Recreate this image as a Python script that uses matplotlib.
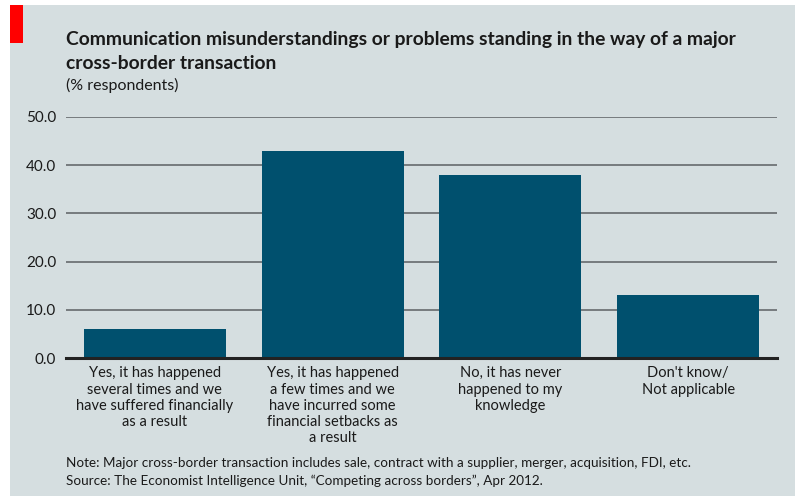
import matplotlib.pyplot as plt
from matplotlib.patches import Rectangle

categories = [
    "Yes, it has happened\nseveral times and we\nhave suffered financially\nas a result",
    "Yes, it has happened\na few times and we\nhave incurred some\nfinancial setbacks as\na result",
    "No, it has never\nhappened to my\nknowledge",
    "Don't know/\nNot applicable",
]
values = [6, 43, 38, 13]
yticks = [0, 10, 20, 30, 40, 50]

BG = "#d5dee0"
BAR = "#00506e"
TXT = "#1a1a1a"
W, H = 800, 496

plt.rcParams['font.family'] = ['Lato', 'DejaVu Sans']

fig = plt.figure(figsize=(W / 100, H / 100), dpi=100)
fig.patch.set_facecolor("white")

# background panel and red tag
fig.patches.append(Rectangle((10 / W, 0), 785 / W, 491 / H, transform=fig.transFigure,
                             facecolor=BG, edgecolor="none", zorder=-2))
fig.patches.append(Rectangle((10 / W, 1 - 43 / H), 13 / W, 38 / H, transform=fig.transFigure,
                             facecolor="#ff0000", edgecolor="none", zorder=-1))

ax = fig.add_axes([66 / W, 1 - 358 / H, 711 / W, 241 / H])
ax.set_zorder(2)
ax.patch.set_visible(False)

x = range(len(values))
ax.bar(x, values, width=0.8, color=BAR, zorder=3)
ax.set_xlim(-0.5, 3.5)
ax.set_ylim(0, 50)
ax.set_yticks(yticks)
ax.set_yticklabels([f"{v:.1f}" for v in yticks], fontsize=11, color=TXT)
for v in yticks[1:]:
    ax.axhline(v, color="#6e7376", lw=1.3, zorder=1)
ax.axhline(0, color="#222222", lw=2.2, zorder=4, clip_on=False)
ax.tick_params(axis="y", length=0, pad=7)
ax.tick_params(axis="x", length=0, pad=6)
ax.set_xticks(list(x))
ax.set_xticklabels(categories, fontsize=10.5, color=TXT, linespacing=1.2)
for s in ax.spines.values():
    s.set_visible(False)

fig.text(66 / W, 1 - 45 / H, "Communication misunderstandings or problems standing in the way of a major",
         fontsize=13.9, fontweight="bold", color=TXT, ha="left", va="baseline")
fig.text(66 / W, 1 - 69 / H, "cross-border transaction",
         fontsize=13.9, fontweight="bold", color=TXT, ha="left", va="baseline")
fig.text(66 / W, 1 - 90 / H, "(% respondents)", fontsize=11.5, color=TXT, ha="left", va="baseline")
fig.text(66 / W, 1 - 467 / H, "Note: Major cross-border transaction includes sale, contract with a supplier, merger, acquisition, FDI, etc.",
         fontsize=9.75, color=TXT, ha="left", va="baseline")
fig.text(66 / W, 1 - 485 / H, "Source: The Economist Intelligence Unit, \u201cCompeting across borders\u201d, Apr 2012.",
         fontsize=9.75, color=TXT, ha="left", va="baseline")

fig.savefig("out.png", dpi=100, facecolor=fig.get_facecolor())
